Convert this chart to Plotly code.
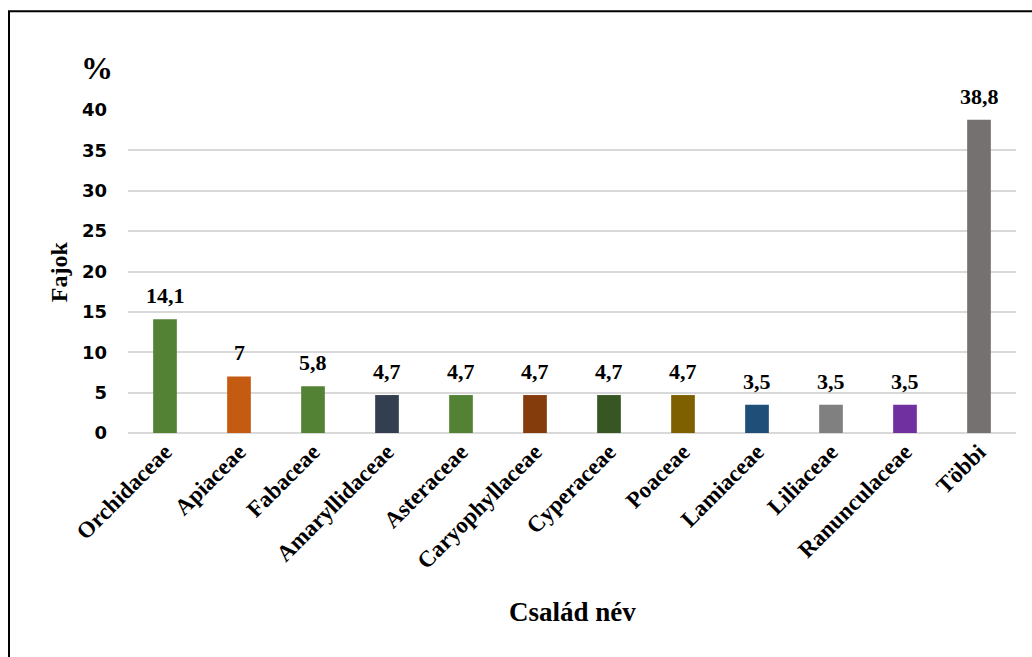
import plotly.graph_objects as go

# Plant families and their share of species (%)
families = ["Orchidaceae", "Apiaceae", "Fabaceae", "Amaryllidaceae", "Asteraceae",
            "Caryophyllaceae", "Cyperaceae", "Poaceae", "Lamiaceae", "Liliaceae",
            "Ranunculaceae", "Többi"]
shares = [14.1, 7, 5.8, 4.7, 4.7, 4.7, 4.7, 4.7, 3.5, 3.5, 3.5, 38.8]
bar_colors = ["#548235", "#C55A11", "#548235", "#333F50", "#548235", "#843C0C",
              "#375623", "#7F6000", "#1F4E79", "#808080", "#7030A0", "#767171"]
y_ticks = [0, 5, 10, 15, 20, 25, 30, 35, 40]

SERIF = "Liberation Serif, Times New Roman, serif"
SANS = "DejaVu Sans, Verdana, sans-serif"

labels = [f"{v:g}".replace(".", ",") for v in shares]

fig = go.Figure(go.Bar(
    x=families,
    y=shares,
    marker=dict(color=bar_colors, line=dict(width=0)),
    cliponaxis=False,
))

# Value labels above each bar (Hungarian decimal comma)
value_labels = [
    dict(x=fam, y=val, text=lab, xref="x", yref="y",
         xanchor="center", yanchor="bottom", yshift=9, showarrow=False,
         font=dict(family=SERIF, size=22, color="black", weight="bold"))
    for fam, val, lab in zip(families, shares, labels)
]

fig.update_layout(
    width=1032, height=657,
    margin=dict(l=128, r=16, t=110, b=224),
    paper_bgcolor="white", plot_bgcolor="white",
    bargap=0.68,
    showlegend=False,
    xaxis=dict(
        tickangle=-45,
        tickfont=dict(family=SERIF, size=23, color="black", weight="bold"),
        showgrid=False, showline=False, ticks="",
    ),
    yaxis=dict(
        range=[0, 40],
        tickvals=y_ticks,
        tickfont=dict(family=SANS, size=18, color="black", weight="bold"),
        showgrid=True, gridcolor="#D9D9D9", gridwidth=2,
        zeroline=True, zerolinecolor="#D9D9D9", zerolinewidth=2,
        ticks="", ticklabelstandoff=20,
    ),
    annotations=value_labels + [
        dict(text="%", xref="paper", yref="paper", x=-0.035, y=1.13,
             xanchor="center", yanchor="middle",
             showarrow=False, font=dict(family=SERIF, size=32, color="black", weight="bold")),
        dict(text="Fajok", xref="paper", yref="paper", x=-0.078, y=0.5, textangle=-90,
             xanchor="center", yanchor="middle",
             showarrow=False, font=dict(family=SERIF, size=24, color="black", weight="bold")),
        dict(text="Család név", xref="paper", yref="paper", x=0.5, y=-0.555,
             xanchor="center", yanchor="middle",
             showarrow=False, font=dict(family=SERIF, size=27, color="black", weight="bold")),
    ],
    shapes=[
        dict(type="rect", xref="paper", yref="paper",
             x0=-0.134, x1=1.05, y0=-0.72, y1=1.306,
             line=dict(color="black", width=2), fillcolor="rgba(0,0,0,0)", layer="below"),
    ],
)

fig.write_html("out.html")
